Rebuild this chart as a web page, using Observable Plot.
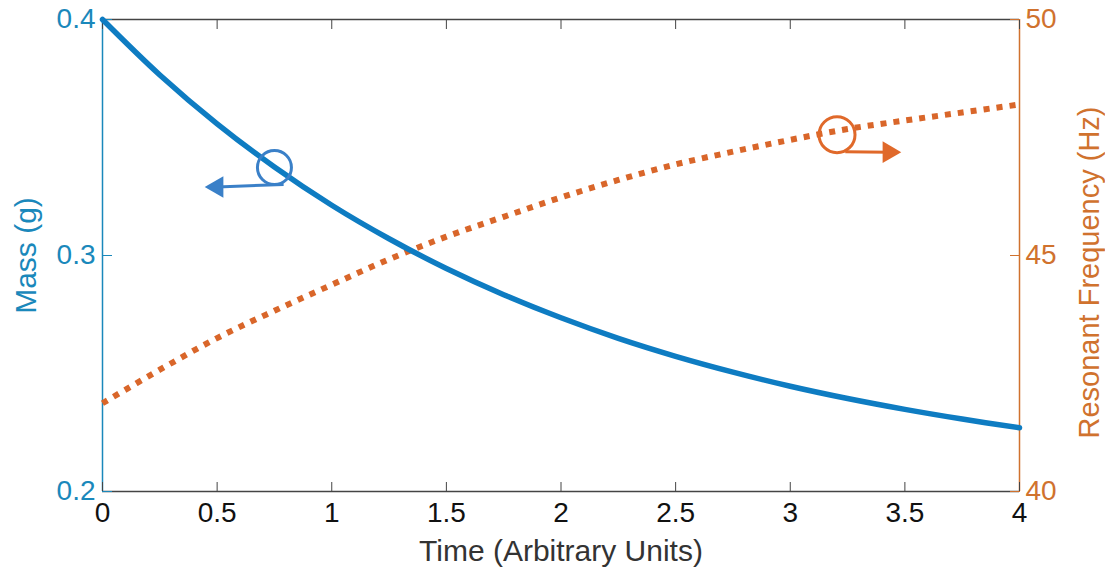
<!DOCTYPE html>
<html>
<head>
<meta charset="utf-8">
<script src="https://cdn.jsdelivr.net/npm/d3@7"></script>
<script src="https://cdn.jsdelivr.net/npm/@observablehq/plot@0.6"></script>
<style>
  html, body { margin: 0; padding: 0; background: #ffffff; }
  #chart svg { display: block; }
</style>
</head>
<body>
<div id="chart"></div>
<script>
// ---- data ----
const times = [0, 0.25, 0.5, 0.75, 1, 1.25, 1.5, 1.75, 2, 2.25, 2.5, 2.75, 3, 3.25, 3.5, 3.75, 4];
const massValues = [0.400, 0.3765, 0.3558, 0.3375, 0.3213, 0.3071, 0.2945, 0.2834, 0.2736, 0.2649, 0.2573, 0.2506, 0.2446, 0.2394, 0.2348, 0.2307, 0.2270];
const freqValues = [41.87, 42.58, 43.25, 43.83, 44.38, 44.92, 45.40, 45.82, 46.23, 46.60, 46.93, 47.20, 47.45, 47.68, 47.86, 48.03, 48.20];
const timeTicks = [0, 0.5, 1, 1.5, 2, 2.5, 3, 3.5, 4];
const massTicks = [0.2, 0.3, 0.4];
const freqTicks = [40, 45, 50];
const massDomain = [0.2, 0.4];
const freqDomain = [40, 50];
const timeDomain = [0, 4];

// annotation markers: circle on each curve with an arrow pointing to its axis
const massCircle = [{t: 0.75, v: 0.3373}];
const massArrow = [{t1: 0.79, v1: 0.3301, t2: 0.50, v2: 0.3290}];
const freqCircle = [{t: 3.204, v: 47.56}];
const freqArrow = [{t1: 3.24, v1: 47.20, t2: 3.43, v2: 47.19}];

// ---- styles ----
const blueLine = "#0e7cc2";
const blueAxis = "#1a88bb";
const blueNote = "#3a80c8";
const orangeLine = "#d9662a";
const orangeAxis = "#d0722e";
const orangeNote = "#e0692a";

// map frequency onto the mass (left) scale
const f2m = d3.scaleLinear().domain(freqDomain).range(massDomain);

const massData = times.map((t, i) => ({t, v: massValues[i]}));
const freqData = times.map((t, i) => ({t, v: f2m(freqValues[i])}));

const chart = Plot.plot({
  width: 1105,
  height: 576,
  marginLeft: 102,
  marginRight: 86,
  marginTop: 19,
  marginBottom: 85,
  style: {fontFamily: "'Liberation Sans', Arial, Helvetica, sans-serif", background: "#ffffff"},
  x: {domain: timeDomain},
  y: {domain: massDomain},
  marks: [
    // frame lines
    Plot.ruleY([massDomain[1]], {stroke: "#444", strokeWidth: 1.5}),
    Plot.ruleY([massDomain[0]], {stroke: "#444", strokeWidth: 1.5}),
    Plot.ruleX([timeDomain[0]], {stroke: blueAxis, strokeWidth: 1.5}),
    Plot.ruleX([timeDomain[1]], {stroke: orangeAxis, strokeWidth: 1.5}),
    // inward ticks
    Plot.axisX({anchor: "bottom", ticks: timeTicks, tickSize: -9, tickFormat: () => "", label: null, stroke: "#444"}),
    Plot.axisX({anchor: "top", ticks: timeTicks, tickSize: -9, tickFormat: () => "", label: null, stroke: "#444"}),
    Plot.axisY({anchor: "left", ticks: massTicks, tickSize: -10, tickFormat: () => "", label: null, stroke: blueAxis}),
    Plot.axisY({anchor: "right", ticks: massTicks, tickSize: -10, tickFormat: () => "", label: null, stroke: orangeAxis}),
    // tick labels
    Plot.axisX({anchor: "bottom", ticks: timeTicks, tickSize: 0, tickPadding: 11, tickFormat: d => String(d), label: null, fontSize: 28, fill: "#111"}),
    Plot.axisY({anchor: "left", ticks: massTicks, tickSize: 0, tickPadding: 7, tickFormat: d => d.toFixed(1), label: null, fontSize: 28, fill: blueAxis}),
    Plot.axisY({anchor: "right", ticks: freqTicks.map(f => f2m(f)), tickSize: 0, tickPadding: 6, tickFormat: d => String(Math.round(f2m.invert(d))), label: null, fontSize: 28, fill: orangeAxis}),
    // axis titles
    Plot.text(["Time (Arbitrary Units)"], {frameAnchor: "bottom", textAnchor: "middle", lineAnchor: "bottom", dy: 69, fontSize: 30, fill: "#333"}),
    Plot.text(["Mass (g)"], {frameAnchor: "left", textAnchor: "middle", rotate: -90, dx: -76, fontSize: 30, fill: blueAxis}),
    Plot.text(["Resonant Frequency (Hz)"], {frameAnchor: "right", textAnchor: "middle", rotate: -90, dx: 70, dy: 17, fontSize: 29, fill: orangeAxis}),
    // curves
    Plot.line(freqData, {x: "t", y: "v", stroke: orangeLine, strokeWidth: 6, strokeDasharray: "6,7", strokeLinecap: "butt", curve: "catmull-rom"}),
    Plot.line(massData, {x: "t", y: "v", stroke: blueLine, strokeWidth: 5.5, curve: "catmull-rom"}),
    // annotations
    Plot.dot(massCircle, {x: "t", y: "v", r: 17, stroke: blueNote, strokeWidth: 3, fill: "none"}),
    Plot.link(massArrow, {x1: "t1", y1: "v1", x2: "t2", y2: "v2", stroke: blueNote, strokeWidth: 3}),
    Plot.dot(massArrow, {x: "t2", y: "v2", symbol: "triangle", rotate: -90, r: 8, fill: blueNote, stroke: "none"}),
    Plot.dot(freqCircle, {x: "t", y: d => f2m(d.v), r: 18, stroke: orangeNote, strokeWidth: 3, fill: "none"}),
    Plot.link(freqArrow, {x1: "t1", y1: d => f2m(d.v1), x2: "t2", y2: d => f2m(d.v2), stroke: orangeNote, strokeWidth: 3}),
    Plot.dot(freqArrow, {x: "t2", y: d => f2m(d.v2), symbol: "triangle", rotate: 90, r: 8, fill: orangeNote, stroke: "none"})
  ]
});
document.getElementById("chart").appendChild(chart);
</script>
</body>
</html>
